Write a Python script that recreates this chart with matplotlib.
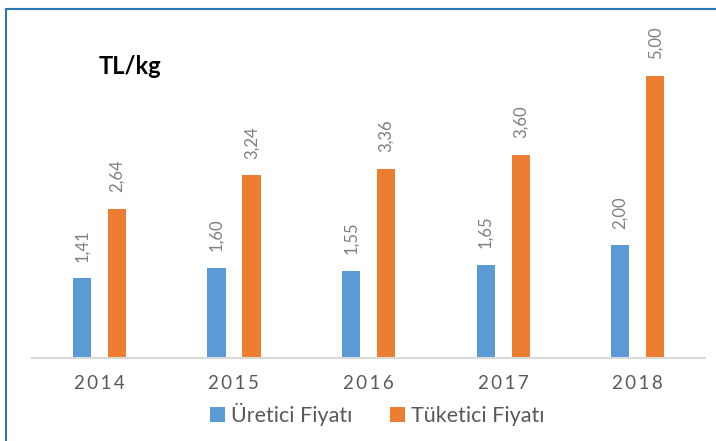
import numpy as np
import matplotlib.pyplot as plt
from matplotlib.patches import Rectangle

# Data
years = ["2014", "2015", "2016", "2017", "2018"]
uretici = [1.41, 1.60, 1.55, 1.65, 2.00]
tuketici = [2.64, 3.24, 3.36, 3.60, 5.00]

blue = "#5B9BD5"
orange = "#ED7D31"

plt.rcParams['font.family'] = ['Lato', 'DejaVu Sans']

fig = plt.figure(figsize=(7.16, 4.41), dpi=100)
ax = fig.add_axes([0.0447, 0.1882, 0.94, 0.7673])

x = np.arange(len(years))
w = 0.135
off = 0.13
b1 = ax.bar(x - off, uretici, w, color=blue, label="Üretici Fiyatı")
b2 = ax.bar(x + off, tuketici, w, color=orange, label="Tüketici Fiyatı")

for bars, vals in [(b1, uretici), (b2, tuketici)]:
    for rect, v in zip(bars, vals):
        ax.annotate(f"{v:.2f}".replace(".", ","),
                    (rect.get_x() + rect.get_width() / 2, rect.get_height()),
                    xytext=(0, 12), textcoords="offset points",
                    rotation=90, ha="center", va="bottom",
                    fontsize=12, color="#7F7F7F")

ax.set_xlim(-0.5, 4.5)
ax.set_ylim(0, 6)
ax.set_yticks([])
ax.set_xticks(x)
ax.set_xticklabels(["\u2009".join(y) for y in years], fontsize=13.5, color="#595959")
ax.tick_params(axis="x", length=0, pad=12)
for s in ["top", "right", "left"]:
    ax.spines[s].set_visible(False)
ax.spines["bottom"].set_color("#D9D9D9")
ax.spines["bottom"].set_linewidth(1.5)

fig.text(0.138, 0.85, "TL/kg", fontsize=17, fontweight="bold", ha="left", va="center")

fig.legend(handles=[b1, b2], loc="center", bbox_to_anchor=(0.527, 0.06), ncol=2,
           frameon=False, fontsize=15.5, handlelength=0.7, handleheight=0.7,
           handletextpad=0.28, columnspacing=1.75, labelcolor="#595959")

# outer chart border
fig.patches.append(Rectangle((6 / 716, -0.1), 1.2, 1 - 9 / 441 + 0.1,
                             transform=fig.transFigure, fill=False,
                             edgecolor="#2E75B6", linewidth=1.5))

fig.savefig("out.png", dpi=100)
